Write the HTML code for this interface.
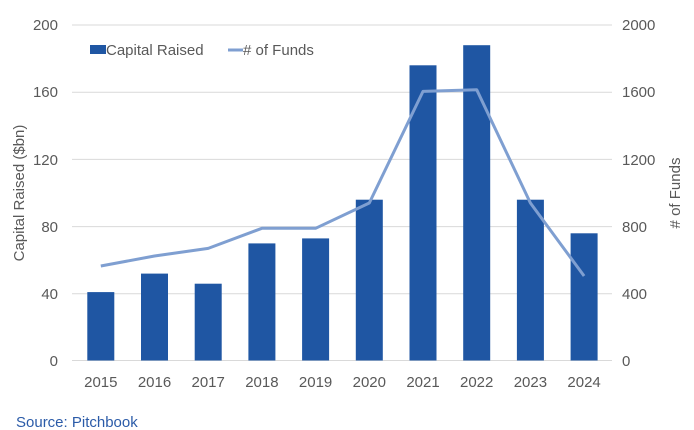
<!DOCTYPE html>
<html><head><meta charset="utf-8"><style>body{margin:0;background:#fff}svg{display:block}text{font-family:"Liberation Sans",sans-serif;fill:#595959}</style></head><body>
<svg width="694" height="430" viewBox="0 0 694 430">
<g stroke="#d9d9d9" stroke-width="1">
<line x1="72" x2="612" y1="25" y2="25"/><line x1="72" x2="612" y1="92.2" y2="92.2"/><line x1="72" x2="612" y1="159.4" y2="159.4"/><line x1="72" x2="612" y1="226.6" y2="226.6"/><line x1="72" x2="612" y1="293.8" y2="293.8"/><line x1="72" x2="612" y1="360.5" y2="360.5"/>
</g>
<g font-size="15" text-anchor="end">
<text x="58" y="366">0</text><text x="58" y="299">40</text><text x="58" y="232">80</text><text x="58" y="165">120</text><text x="58" y="97">160</text><text x="58" y="30">200</text>
</g>
<g font-size="15" text-anchor="start">
<text x="622" y="366">0</text><text x="622" y="299">400</text><text x="622" y="232">800</text><text x="622" y="165">1200</text><text x="622" y="97">1600</text><text x="622" y="30">2000</text>
</g>
<text font-size="15" text-anchor="middle" transform="translate(24,193) rotate(-90)">Capital Raised ($bn)</text>
<text font-size="15" text-anchor="middle" transform="translate(680,193) rotate(-90)">#  of Funds</text>
<g fill="#1f56a3">
<rect x="87.3" y="292.1" width="27" height="68.4"/>
<rect x="141" y="273.6" width="27" height="86.9"/>
<rect x="194.7" y="283.7" width="27" height="76.8"/>
<rect x="248.4" y="243.4" width="27" height="117.1"/>
<rect x="302.1" y="238.4" width="27" height="122.1"/>
<rect x="355.8" y="199.7" width="27" height="160.8"/>
<rect x="409.5" y="65.3" width="27" height="295.2"/>
<rect x="463.2" y="45.2" width="27" height="315.3"/>
<rect x="516.9" y="199.7" width="27" height="160.8"/>
<rect x="570.6" y="233.3" width="27" height="127.2"/>
</g>
<polyline fill="none" stroke="#7f9fd1" stroke-width="3" stroke-linejoin="round" points="100.8,266 154.5,256 208.2,248.4 261.9,228.3 315.6,228.3 369.3,203 423,91.4 476.7,89.7 530.4,203 584.1,276"/>
<g font-size="15" text-anchor="middle">
<text x="100.8" y="387">2015</text><text x="154.5" y="387">2016</text><text x="208.2" y="387">2017</text><text x="261.9" y="387">2018</text><text x="315.6" y="387">2019</text><text x="369.3" y="387">2020</text><text x="423" y="387">2021</text><text x="476.7" y="387">2022</text><text x="530.4" y="387">2023</text><text x="584.1" y="387">2024</text>
</g>
<rect x="90" y="45" width="16" height="9" fill="#1f56a3"/>
<text x="106" y="55" font-size="15">Capital Raised</text>
<line x1="228" x2="243" y1="50" y2="50" stroke="#7f9fd1" stroke-width="3"/>
<text x="243" y="55" font-size="15"># of Funds</text>
<text x="16" y="427" font-size="15" style="fill:#2b5ba8">Source: Pitchbook</text>
</svg>
</body></html>
